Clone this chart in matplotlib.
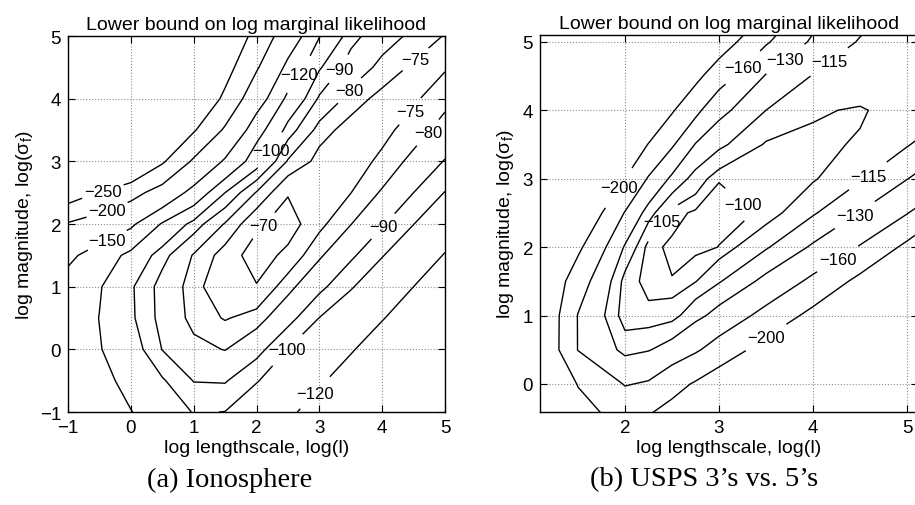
import numpy as np
import matplotlib
matplotlib.use('Agg')
import matplotlib.pyplot as plt

plt.rcParams['font.family'] = ['Liberation Sans', 'DejaVu Sans']
plt.rcParams['mathtext.default'] = 'regular'

# ---- panel (a): Ionosphere, bound values on a 0.5 grid
iono_x = [-1, -0.5, 0, 0.5, 1, 1.5, 2, 2.5, 3, 3.5, 4, 4.5, 5]
iono_y = [-1, -0.5, 0, 0.5, 1, 1.5, 2, 2.5, 3, 3.5, 4, 4.5, 5]
iono_z = [
    [-145.8, -133.0, -120.6, -110.2, -99.2, -100.2, -108.9, -117.2, -126.6, -133.0, -138.0, -142.0, -146.0],
    [-138.8, -126.3, -113.8, -101.3, -89.6, -89.1, -99.2, -108.5, -117.6, -128.5, -134.0, -139.0, -144.0],
    [-133.2, -121.2, -106.6, -89.7, -82.2, -79.7, -86.0, -100.2, -109.3, -118.4, -129.5, -135.0, -140.0],
    [-134.8, -119.6, -102.1, -86.4, -77.7, -74.6, -76.9, -86.0, -100.2, -109.6, -119.0, -129.6, -136.0],
    [-137.4, -121.6, -101.6, -86.0, -76.8, -71.0, -70.3, -77.7, -87.1, -98.8, -109.5, -120.0, -130.7],
    [-157.0, -135.2, -113.3, -93.3, -79.2, -72.8, -67.5, -71.3, -78.8, -88.0, -99.3, -110.1, -120.9],
    [-196.0, -176.0, -156.0, -117.5, -95.0, -79.2, -71.0, -67.5, -73.6, -79.75, -88.9, -99.8, -110.8],
    [-278.8, -247.5, -216.3, -180.0, -137.6, -100.0, -79.2, -70.4, -72.0, -74.9, -80.7, -90.0, -100.4],
    [-454.0, -388.0, -322.0, -256.6, -193.1, -145.0, -106.7, -79.0, -73.5, -73.0, -75.9, -81.9, -90.6],
    [-493.0, -433.0, -374.0, -314.0, -254.8, -193.75, -129.4, -95.0, -76.7, -73.3, -73.75, -76.9, -82.7],
    [-545.0, -484.0, -423.0, -362.0, -301.0, -240.0, -168.5, -113.7, -88.5, -77.0, -73.6, -74.2, -78.0],
    [-589.0, -525.0, -461.0, -397.0, -333.0, -269.0, -205.0, -140.6, -101.3, -85.4, -77.7, -74.2, -74.5],
    [-600.0, -540.0, -480.0, -420.0, -358.0, -296.0, -234.0, -174.0, -121.0, -93.3, -83.75, -78.2, -74.7],
]
iono_levels = [-250, -200, -150, -120, -100, -90, -80, -75, -70]
iono_label_at = [(-0.44, 2.5), (-0.38, 2.23), (-0.38, 1.75), (2.67, 4.39), (3.28, 4.5),
                 (3.44, 4.16), (4.53, 4.63), (4.5, 3.75), (4.76, 3.43), (2.22, 3.17),
                 (2.16, 1.93), (4.05, 1.93), (2.54, -0.05), (2.93, -0.69)]

# ---- panel (b): USPS 3's vs 5's (extra columns near the peak)
usps_x = [1, 1.5, 2, 2.25, 2.5, 2.75, 3, 3.5, 4, 4.5, 5, 5.5]
usps_y = [-0.5, 0, 0.5, 1, 1.5, 2, 2.5, 3, 3.5, 4, 4.5, 5, 5.5]
usps_z = [
    [-260, -214, -190, -203, -218, -240, -260, -300, -340, -380, -420, -460],
    [-250, -198.6, -158, -163.3, -186, -204, -224.6, -265, -306, -347, -388, -429],
    [-260, -159, -124, -128.7, -139.1, -155.4, -175, -216.4, -257, -298, -339, -380],
    [-262, -158.7, -108, -107.5, -110, -124.3, -136.9, -170.6, -211.5, -252, -293, -334],
    [-263, -177.4, -110, -101.8, -100.2, -104.6, -113.8, -134.8, -167.1, -210.7, -252, -293],
    [-270, -208, -127.5, -101.5, -99.0, -98.5, -100.1, -113.5, -132.3, -162, -209, -250],
    [-280, -244, -158.1, -120, -102, -99, -98.5, -100.6, -113.4, -130.6, -158.3, -208],
    [-330, -287, -200, -156.8, -124.8, -110, -100.2, -100.2, -104, -113.5, -129.3, -154.8],
    [-330, -300, -233.6, -198.6, -164.1, -128.7, -117.6, -104, -103.4, -105.7, -113.9, -128.4],
    [-360, -330, -280, -239, -204, -168.6, -135.2, -115, -105.9, -104.2, -108.7, -114.6],
    [-380, -350, -310, -280, -246, -211, -176.6, -128, -114.3, -111, -109.3, -111],
    [-400, -370, -340, -320, -300, -260, -222.8, -163.5, -125.5, -114, -111.5, -110.5],
    [-420, -390, -360, -345, -330, -305, -280, -205, -145, -121, -113, -111],
]
usps_levels = [-200, -160, -130, -115, -105, -100]
usps_label_at = [(1.95, 2.85), (2.39, 2.37), (3.33, 2.73), (3.24, 4.64), (3.7, 4.76),
                 (4.13, 4.78), (4.59, 3.03), (4.45, 2.46), (4.27, 1.81), (3.51, 0.66)]


def minus_fmt(v):
    return '\u2212%d' % abs(int(round(v)))


def draw_panel(ax, xs, ys, zs, levels, label_at, xlim, ylim, xticks, yticks, ypad):
    X, Y = np.meshgrid(xs, ys)
    cs = ax.contour(X, Y, np.array(zs), levels=levels, colors='black', linewidths=1.0,
                    negative_linestyles='solid')
    labels = ax.clabel(cs, manual=label_at, fmt=minus_fmt, fontsize=12, inline=True,
                       inline_spacing=3)
    for t in labels:
        t.set_rotation(0)
    ax.set_xlim(xlim)
    ax.set_ylim(ylim)
    ax.set_xticks(xticks)
    ax.set_yticks(yticks)
    ax.grid(True, linestyle=':', color='0.55', linewidth=0.8)
    ax.tick_params(direction='in', top=True, right=True, length=5, width=0.8,
                   labelsize=13.5, pad=5)
    for s in ax.spines.values():
        s.set_linewidth(1.0)
    ax.set_title('Lower bound on log marginal likelihood', fontsize=14, pad=5)
    ax.set_xlabel('log lengthscale, log(l)', fontsize=14, labelpad=2)
    ax.set_ylabel('log magnitude, log(σ$_{\\mathregular{f}}$)', fontsize=14, labelpad=ypad)


fig = plt.figure(figsize=(9.15, 5.06), dpi=100)
ax1 = fig.add_axes([68 / 915, 93 / 506, 377 / 915, 376 / 506])
ax2 = fig.add_axes([540 / 915, 93 / 506, 378 / 915, 377 / 506])

draw_panel(ax1, iono_x, iono_y, iono_z, iono_levels, iono_label_at,
           (-1, 5), (-1, 5), range(-1, 6), range(-1, 6), 3.5)
draw_panel(ax2, usps_x, usps_y, usps_z, usps_levels, usps_label_at,
           (1.096, 5.117), (-0.41, 5.1), range(2, 6), range(0, 6), 5)

fig.text(230 / 915, 1 - 480 / 506, '(a) Ionosphere', family='Liberation Serif',
         fontsize=20.5, ha='center', va='center')
fig.text(704 / 915, 1 - 480 / 506, "(b) USPS 3\u2019s vs. 5\u2019s", family='Liberation Serif',
         fontsize=20.5, ha='center', va='center')

fig.savefig('out.png', dpi=100)
